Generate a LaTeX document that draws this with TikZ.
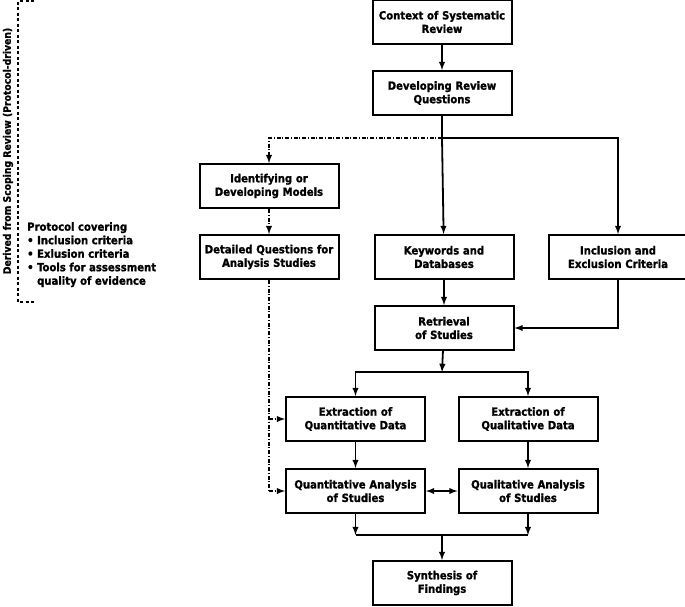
\documentclass[tikz,border=0pt]{standalone}
\usepackage{fontspec}
\setmainfont[BoldFeatures={FakeBold=1.2}]{DejaVu Sans Condensed}
\usepackage{tikz}
\usetikzlibrary{positioning,arrows,calc}

\begin{document}
\begin{tikzpicture}[x=1pt, y=-1pt, font=\bfseries\fontsize{11.2}{13.5}\selectfont, >=latex]

\tikzstyle{stepbox} = [draw, black, line width=2pt, text width=132pt, minimum width=139pt, minimum height=44pt, align=center, inner sep=2pt]
\tikzstyle{link} = [line width=1.8pt]
\tikzstyle{dlink} = [line width=1.8pt, dash pattern=on 4pt off 1.6pt on 1.3pt off 1.6pt]
\tikzstyle{bracket} = [line width=2pt, dash pattern=on 3pt off 2.5pt]

\useasboundingbox (0,0) rectangle (685,606);

\node[stepbox] (ctx) at (442,22) {Context of Systematic\\Review};
\node[stepbox, below=25pt of ctx] (drq) {Developing Review\\Questions};
\node[stepbox] (idm) at (269,186) {Identifying or\\Developing Models};
\node[stepbox, below=25pt of idm] (det) {Detailed Questions for\\Analysis Studies};
\node[stepbox, right=34pt of det] (kw) {Keywords and\\Databases};
\node[stepbox, right=33pt of kw] (inc) {Inclusion and\\Exclusion Criteria};
\node[stepbox, below=25pt of kw] (ret) {Retrieval\\of Studies};
\node[stepbox] (exq) at (355.5,419) {Extraction of\\Quantitative Data};
\node[stepbox] (exl) at (528,419) {Extraction of\\Qualitative Data};
\node[stepbox, below=26pt of exq] (qan) {Quantitative Analysis\\of Studies};
\node[stepbox, below=26pt of exl] (qal) {Qualitative Analysis\\of Studies};
\node[stepbox] (syn) at (442,583) {Synthesis of\\Findings};

% left side: scoping review bracket
\node[rotate=90, font=\bfseries\fontsize{10.3}{12}\selectfont] (derived) at (8,151) {Derived from Scoping Review (Protocol-driven)};
\node[anchor=north west, align=left, inner sep=0] (protocol) at (27,222) {Protocol covering\\
	• Inclusion criteria\\
	• Exlusion criteria\\
	• Tools for assessment\\
	\phantom{• }quality of evidence};
\coordinate (brtop) at (34,1);
\coordinate (brbot) at (34,302);
\draw[bracket] (brtop) -- (18,1) -- (18,302) -- (brbot);

% review questions fork
\coordinate (fork) at (442,138);
\draw[link,->] (ctx) -- (drq);
\draw[link] (drq) -- (fork);
\draw[link,->] (fork) -- (kw);
\draw[link,->] (fork) -| (inc);
\draw[dlink,->] (fork) -| (idm);
\draw[dlink,->] (idm) -- (det);
\draw[dlink] (det.south) -- (det.south |- qan.west);
\draw[dlink,->] (det.south |- exq.west) -- (exq.west);
\draw[dlink,->] (det.south |- qan.west) -- (qan.west);

\draw[link,->] (kw) -- (ret);
\draw[link,->] (inc) |- (ret);

\coordinate (split) at (442,372);
\draw[link,->] (ret) -- (split);
\draw[link,->] (split) -| (exq);
\draw[link,->] (split) -| (exl);
\draw[link,->] (exq) -- (qan);
\draw[link,->] (exl) -- (qal);
\draw[link,<->] (qan) -- (qal);

\coordinate (merge) at (442,535);
\draw[link,->] (qan) -- (qan.south |- merge);
\draw[link,->] (qal) -- (qal.south |- merge);
\draw[link] (qan.south |- merge) -- (qal.south |- merge);
\draw[link,->] (merge) -- (syn);

\end{tikzpicture}
\end{document}
